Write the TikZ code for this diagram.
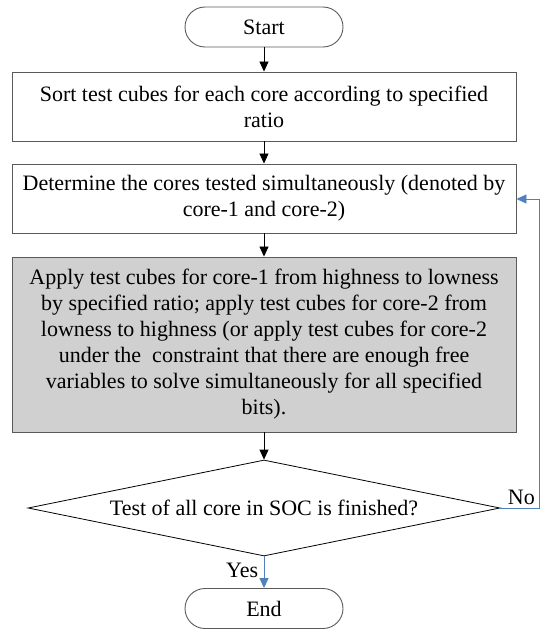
\documentclass[tikz,border=0pt]{standalone}
\usepackage{fontspec}
\setmainfont{Liberation Serif}
\usetikzlibrary{shapes.geometric,arrows.meta}
\definecolor{boxline}{RGB}{90,90,90}
\definecolor{grayfill}{RGB}{208,208,208}
\definecolor{loopblue}{RGB}{79,129,189}
\begin{document}
\begin{tikzpicture}[x=1pt,y=1pt,
  every node/.style={font=\fontsize{22}{26}\selectfont},
  terminal/.style={draw=boxline, line width=0.9pt, rectangle, rounded corners=20pt, minimum width=158pt, minimum height=40pt, inner sep=0pt},
  procbox/.style={draw=boxline, line width=0.9pt, rectangle, minimum width=504pt, align=center, inner sep=0pt},
  decision/.style={draw=black, line width=0.8pt, diamond, aspect=4.9, minimum width=472pt, minimum height=96pt, inner sep=0pt},
  flow/.style={draw=black, line width=0.8pt, -{Triangle[length=10pt,width=9pt]}},
  blueflow/.style={draw=loopblue, line width=0.9pt, -{Triangle[length=10pt,width=9pt]}}
]
\useasboundingbox (0,0) rectangle (541,-634);
\node[terminal] (start) at (264,-27) {Start};
\node[procbox, minimum height=69pt] (sort) at (264,-106.5) {Sort test cubes for each core according to specified\\ratio};
\node[procbox, minimum height=69pt] (det) at (264,-198.5) {Determine the cores tested simultaneously (denoted by\\core-1 and core-2)};
\node[procbox, fill=grayfill, minimum height=175pt] (apply) at (264,-344.5) {Apply test cubes for core-1 from highness to lowness\\by specified ratio; apply test cubes for core-2 from\\lowness to highness (or apply test cubes for core-2\\under the\ \ constraint that there are enough free\\variables to solve simultaneously for all specified\\bits).};
\node[decision] (test) at (264,-508) {Test of all core in SOC is finished?};
\node[terminal] (end) at (264,-608.5) {End};
\coordinate (c1) at (539,-508);
\coordinate (c2) at (539,-199);
\draw[flow] (start) -- (sort);
\draw[flow] (sort) -- (det);
\draw[flow] (det) -- (apply);
\draw[flow] (apply) -- (test);
\draw[blueflow] (test.south) -- (end.north) node[pos=0.45, left=2pt, black] (yes) {Yes};
\draw[blueflow] (test.east) -- (c1) -- (c2) -- (det.east |- c2);
\node[anchor=south east, inner sep=1pt] (no) at ([xshift=-3pt,yshift=2pt]c1) {No};
\end{tikzpicture}
\end{document}
